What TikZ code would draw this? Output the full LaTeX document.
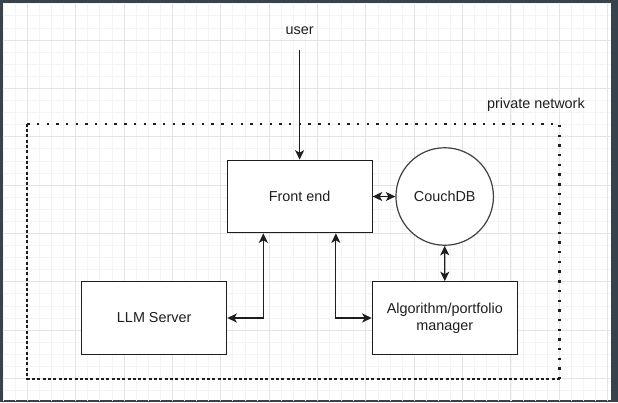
\documentclass[tikz,border=0pt]{standalone}
\usepackage{fontspec}
\setmainfont{Liberation Sans}
\usetikzlibrary{arrows.meta, shapes.geometric}

\definecolor{frame}{RGB}{54,67,77}
\definecolor{ink}{RGB}{30,30,30}
\definecolor{minorline}{RGB}{244,244,244}
\definecolor{majorline}{RGB}{228,228,228}

\tikzset{
  box/.style = {draw = ink, line width = 1.2pt, fill = white, minimum width = 145pt, minimum height = 72.5pt, align = center, inner sep = 2pt},
  dbcircle/.style = {draw = ink!85, line width = 1.2pt, fill = white, circle, minimum size = 97.5pt, inner sep = 0pt},
  label text/.style = {text = ink, font = \fontsize{14.4}{17.3}\selectfont},
  arr/.style = {draw = ink, line width = 1.2pt, -{Stealth[length = 9.5pt, width = 9pt, inset = 2.5pt]}},
  dblarr/.style = {arr, {Stealth[length = 9.5pt, width = 9pt, inset = 2.5pt]}-{Stealth[length = 9.5pt, width = 9pt, inset = 2.5pt]}},
  netdot/.style = {draw = ink, line width = 2.4pt, dash pattern = on 2.4pt off 7.3pt},
  netdash/.style = {draw = ink, line width = 2pt, dash pattern = on 3pt off 2.3pt}
}

\begin{document}
\begin{tikzpicture}[x = 1pt, y = -1pt]
\useasboundingbox (0,0) rectangle (618,402);
% frame and grid
\fill[frame] (0,0) rectangle (618,402);
\fill[white] (2.7,2.7) rectangle (610.5,400);
\begin{scope}
\clip (2.7,2.7) rectangle (610.5,400);
\foreach \i in {0,...,50} {\draw[minorline, line width = 0.8pt] ({3.12+12.09*\i},2.7) -- ++(0,398);}
\foreach \i in {0,...,33} {\draw[minorline, line width = 0.8pt] (2.7,{3.73+12.09*\i}) -- ++(608,0);}
\foreach \i in {0,...,12} {\draw[majorline, line width = 0.9pt] ({27.3+48.36*\i},2.7) -- ++(0,398);}
\foreach \i in {0,...,7} {\draw[majorline, line width = 0.9pt] (2.7,{40+48.36*\i}) -- ++(608,0);}
\end{scope}

% private network
\node[minimum width = 532pt, minimum height = 254.3pt, inner sep = 0pt] (net) at (293.3,251.15) {};
\draw[netdash] (net.north west) |- (net.south east);
\draw[netdot] (net.north west) -| (net.south east);
\node[label text, inner sep = 0pt] (netname) at (535.9,105) {private network};

% nodes
\node[label text, inner sep = 0pt] (user) at (299.6,31) {user};
\node[box, label text] (front) at (299.6,196.5) {Front end};
\node[dbcircle, label text] (couch) at (444.7,196.5) {CouchDB};
\node[box, label text] (llm) at (154.2,318) {LLM Server};
\node[box, label text] (algo) at (444.8,318) {Algorithm/portfolio\\manager};

% connectors
\draw[arr, shorten <= 14.5pt] (user.south) -- (front.north);
\draw[dblarr] (front.east) -- (couch.west);
\draw[dblarr] (couch.south) -- (algo.north);
\draw[dblarr] ([xshift = -36.25pt]front.south) |- (llm.east);
\draw[dblarr] ([xshift = 36.25pt]front.south) |- (algo.west);
\end{tikzpicture}
\end{document}
